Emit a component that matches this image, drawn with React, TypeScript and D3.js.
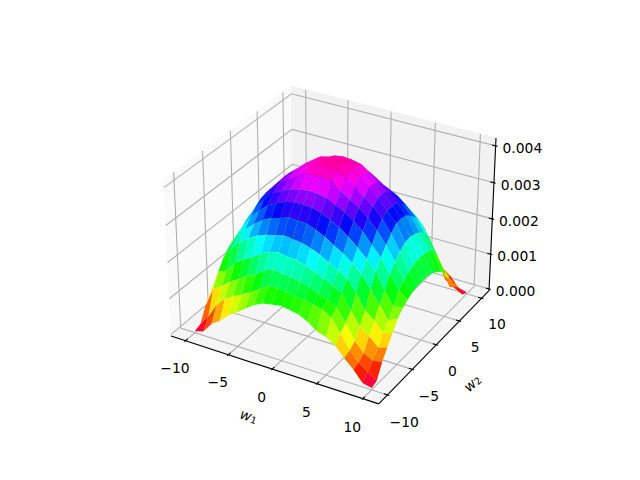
import React from "react";
import * as d3 from "d3";

const W1_GRID = d3.range(0, 21).map((i) => i - 10);
const W2_GRID = d3.range(0, 21).map((i) => i - 10);
// Heights, in units of 1e-5, rows by |w1|, columns by |w2|,
// one table for each quadrant of the (w1, w2) plane.
const Z_NEG_NEG = [
  [414, 407, 392, 362, 336, 305, 267, 233, 199, 173, 147],
  [411, 406, 392, 363, 337, 307, 270, 235, 201, 175, 143],
  [402, 399, 391, 359, 337, 308, 272, 239, 205, 172, 138],
  [390, 387, 373, 353, 331, 300, 265, 233, 195, 158, 126],
  [369, 369, 358, 342, 321, 293, 260, 222, 178, 140, 108],
  [350, 350, 343, 329, 308, 281, 251, 205, 165, 128, 91],
  [321, 323, 320, 307, 288, 262, 237, 190, 150, 115, 74],
  [295, 296, 292, 280, 263, 243, 220, 175, 135, 100, 52],
  [251, 253, 250, 242, 230, 214, 195, 145, 115, 75, 35],
  [199, 202, 201, 196, 189, 179, 160, 135, 100, 36, 6],
  [160, 160, 156, 147, 138, 121, 95, 70, 44, 6, 0],
];
const Z_POS_NEG = [
  [414, 407, 392, 362, 336, 305, 267, 233, 199, 173, 147],
  [411, 402, 390, 356, 328, 296, 259, 225, 193, 167, 143],
  [402, 393, 370, 345, 318, 284, 249, 215, 186, 165, 138],
  [390, 376, 355, 332, 304, 268, 235, 203, 177, 160, 126],
  [369, 356, 339, 316, 286, 254, 222, 192, 167, 155, 108],
  [350, 338, 320, 296, 265, 236, 206, 180, 155, 140, 100],
  [321, 312, 293, 266, 241, 213, 175, 140, 120, 105, 85],
  [295, 280, 261, 240, 215, 180, 135, 104, 78, 65, 58],
  [251, 238, 222, 201, 170, 145, 115, 85, 52, 40, 35],
  [199, 191, 178, 164, 135, 110, 88, 62, 40, 22, 6],
  [160, 160, 156, 147, 138, 121, 95, 70, 44, 6, 0],
];
const Z_NEG_POS = [
  [414, 412, 404, 385, 350, 312, 267, 233, 199, 173, 147],
  [414, 408, 400, 375, 340, 300, 259, 225, 193, 167, 143],
  [408, 402, 385, 358, 325, 288, 249, 215, 186, 160, 138],
  [398, 385, 365, 338, 308, 272, 235, 203, 177, 151, 126],
  [378, 365, 345, 320, 290, 256, 222, 192, 167, 141, 108],
  [355, 345, 330, 305, 272, 240, 206, 180, 155, 128, 91],
  [328, 325, 310, 282, 250, 220, 180, 140, 120, 90, 74],
  [298, 295, 282, 262, 235, 195, 145, 104, 78, 58, 52],
  [255, 250, 240, 220, 190, 160, 120, 85, 52, 38, 35],
  [205, 205, 195, 178, 150, 118, 88, 62, 40, 22, 6],
  [165, 165, 160, 150, 138, 121, 95, 70, 44, 6, 0],
];
const Z_POS_POS = [
  [414, 412, 404, 385, 350, 312, 267, 233, 199, 173, 147],
  [411, 410, 402, 380, 345, 310, 270, 235, 201, 175, 143],
  [402, 402, 396, 372, 342, 308, 272, 239, 205, 178, 138],
  [390, 388, 378, 358, 331, 300, 265, 233, 202, 175, 126],
  [369, 369, 358, 342, 321, 293, 260, 228, 197, 165, 108],
  [350, 350, 343, 329, 308, 281, 251, 222, 190, 160, 91],
  [321, 323, 320, 307, 288, 262, 237, 205, 176, 128, 74],
  [295, 296, 292, 280, 263, 240, 210, 170, 123, 88, 52],
  [251, 253, 250, 242, 228, 205, 160, 123, 82, 35, 35],
  [199, 202, 201, 196, 185, 160, 118, 77, 35, 20, 6],
  [160, 160, 156, 147, 135, 115, 90, 65, 40, 6, 0],
];
const XY_TICKS = [-10, -5, 0, 5, 10];
const Z_TICKS = [0, 0.001, 0.002, 0.003, 0.004];
const Z_TICK_TEXT = ["0.000", "0.001", "0.002", "0.003", "0.004"];
const FONT = "'DejaVu Sans'";

const zAt = (i: number, j: number) => {
  const a = W1_GRID[i];
  const b = W2_GRID[j];
  const table = b > 0 ? (a <= 0 ? Z_NEG_POS : Z_POS_POS) : a <= 0 ? Z_NEG_NEG : Z_POS_NEG;
  return table[Math.abs(a)][Math.abs(b)] * 1e-5;
};

const xLim = [-11.7, 11.7];
const zLim = [-5e-5, 421e-5];

const factor = (1.8294640721620434 * (25 / 24)) / Math.sqrt(41);
const box = [4 * factor, 4 * factor, 3 * factor];
const sx = d3.scaleLinear().domain(xLim).range([0, box[0]]);
const sy = d3.scaleLinear().domain(xLim).range([0, box[1]]);
const sz = d3.scaleLinear().domain(zLim).range([0, box[2]]);

const elev = (30 * Math.PI) / 180;
const azim = (-60 * Math.PI) / 180;
const DIST = 10;
const dir = [Math.cos(elev) * Math.cos(azim), Math.cos(elev) * Math.sin(azim), Math.sin(elev)];
const eye = [box[0] / 2 + DIST * dir[0], box[1] / 2 + DIST * dir[1], box[2] / 2 + DIST * dir[2]];
const U = [-Math.sin(azim), Math.cos(azim), 0];
const Vv = [-dir[2] * U[1], dir[2] * U[0], dir[0] * U[1] - dir[1] * U[0]];
const dot = (a: number[], b: number[]) => a[0] * b[0] + a[1] * b[1] + a[2] * b[2];

const px = d3.scaleLinear().domain([-0.095, 0.09]).range([143.2, 512.8]);
const py = d3.scaleLinear().domain([-0.095, 0.09]).range([427.2, 57.6]);

function proj(x: number, y: number, z: number) {
  const p = [sx(x) - eye[0], sy(y) - eye[1], sz(z) - eye[2]];
  const w = dot(dir, p);
  return { X: px(dot(U, p) / -w), Y: py(dot(Vv, p) / -w), depth: w };
}
const pt = (x: number, y: number, z: number) => {
  const q = proj(x, y, z);
  return [q.X, q.Y] as [number, number];
};
const poly = (pts: [number, number][]) => "M" + pts.map((p) => p.join(",")).join("L") + "Z";

const HSV_R: [number, number][] = [[0, 1], [0.15873, 1], [0.174603, 0.96875], [0.333333, 0.03125], [0.349206, 0], [0.666667, 0], [0.68254, 0.03125], [0.84127, 0.96875], [0.857143, 1], [1, 1]];
const HSV_G: [number, number][] = [[0, 0], [0.15873, 0.9375], [0.174603, 1], [0.507937, 1], [0.666667, 0.0625], [0.68254, 0], [1, 0]];
const HSV_B: [number, number][] = [[0, 0], [0.333333, 0], [0.349206, 0.0625], [0.507937, 1], [0.84127, 1], [0.857143, 0.9375], [1, 0.09375]];
const chan = (s: [number, number][]) =>
  d3.scaleLinear().domain(s.map((d) => d[0])).range(s.map((d) => d[1] * 255));
const cr = chan(HSV_R), cg = chan(HSV_G), cb = chan(HSV_B);
const hsv = (t0: number) => {
  const t = t0 < 0 ? t0 + 1 : t0;
  return `rgb(${Math.round(cr(t))},${Math.round(cg(t))},${Math.round(cb(t))})`;
};

type Cell = { d: string; avg: number; depth: number };
const cells: Cell[] = [];
for (let i = 0; i < W1_GRID.length - 1; i++) {
  for (let j = 0; j < W2_GRID.length - 1; j++) {
    const c: [number, number][] = [[i, j], [i + 1, j], [i + 1, j + 1], [i, j + 1]];
    const qs = c.map(([a, b]) => proj(W1_GRID[a], W2_GRID[b], zAt(a, b)));
    cells.push({
      d: poly(qs.map((q) => [q.X, q.Y] as [number, number])),
      avg: d3.mean(c, ([a, b]) => zAt(a, b)) as number,
      depth: d3.mean(qs, (q) => q.depth) as number,
    });
  }
}
cells.sort((a, b) => a.depth - b.depth);
const norm = d3.scaleLinear().domain([18e-5, 448e-5]).range([0, 1]);

const [x0, x1] = xLim;
const [z0, z1] = zLim;
const GRID = "#b0b0b0";
const LW = 1.11;

export default function App() {
  const dx = (x1 - x0) / 12;
  const dz = (z1 - z0) / 12;
  return (
    <svg width={640} height={480} style={{ position: "absolute", left: 0, top: 0 }} fontFamily={FONT} fontSize={13.89}>
      <rect width={640} height={480} fill="#fff" />
      <path d={poly([pt(x0, x0, z0), pt(x0, x1, z0), pt(x0, x1, z1), pt(x0, x0, z1)])} fill="rgb(250,250,250)" stroke="rgb(250,250,250)" />
      <path d={poly([pt(x0, x1, z0), pt(x1, x1, z0), pt(x1, x1, z1), pt(x0, x1, z1)])} fill="rgb(242,242,242)" stroke="rgb(242,242,242)" />
      <path d={poly([pt(x0, x0, z0), pt(x1, x0, z0), pt(x1, x1, z0), pt(x0, x1, z0)])} fill="rgb(245,245,245)" stroke="rgb(245,245,245)" />
      {XY_TICKS.map((t) => (
        <path key={"gx" + t} fill="none" stroke={GRID} strokeWidth={LW}
          d={"M" + [pt(t, x0, z0), pt(t, x1, z0), pt(t, x1, z1)].map((p) => p.join(",")).join("L")} />
      ))}
      {XY_TICKS.map((t) => (
        <path key={"gy" + t} fill="none" stroke={GRID} strokeWidth={LW}
          d={"M" + [pt(x1, t, z0), pt(x0, t, z0), pt(x0, t, z1)].map((p) => p.join(",")).join("L")} />
      ))}
      {Z_TICKS.map((t) => (
        <path key={"gz" + t} fill="none" stroke={GRID} strokeWidth={LW}
          d={"M" + [pt(x0, x0, t), pt(x0, x1, t), pt(x1, x1, t)].map((p) => p.join(",")).join("L")} />
      ))}
      <g stroke="#000" strokeWidth={LW} fill="none">
        <path d={"M" + pt(x0, x0, z0).join(",") + "L" + pt(x1, x0, z0).join(",")} />
        <path d={"M" + pt(x1, x0, z0).join(",") + "L" + pt(x1, x1, z0).join(",")} />
        <path d={"M" + pt(x1, x1, z0).join(",") + "L" + pt(x1, x1, z1).join(",")} />
        {XY_TICKS.map((t) => (
          <path key={"tx" + t} d={"M" + pt(t, x0 + 0.2 * dx, z0).join(",") + "L" + pt(t, x0 - 0.1 * dx, z0).join(",")} />
        ))}
        {XY_TICKS.map((t) => (
          <path key={"ty" + t} d={"M" + pt(x1 - 0.2 * dx, t, z0).join(",") + "L" + pt(x1 + 0.1 * dx, t, z0).join(",")} />
        ))}
        {Z_TICKS.map((t) => (
          <path key={"tz" + t} d={"M" + pt(x1 - 0.2 * dx, x1, t).join(",") + "L" + pt(x1 + 0.1 * dx, x1, t).join(",")} />
        ))}
      </g>
      {cells.map((c, i) => (
        <path key={i} d={c.d} fill={hsv(norm(c.avg))} />
      ))}
      {XY_TICKS.map((t) => {
        const [a, b] = pt(t, x0 - 2.0, z0 - 1.4 * dz);
        return <text key={"lx" + t} x={a} y={b} textAnchor="middle" dominantBaseline="central">{t < 0 ? "\u2212" + -t : t}</text>;
      })}
      {XY_TICKS.map((t) => {
        const [a, b] = pt(x1 + 1.85, t, z0 - 1.7 * dz);
        return <text key={"ly" + t} x={a} y={b} textAnchor="middle" dominantBaseline="central">{t < 0 ? "\u2212" + -t : t}</text>;
      })}
      {Z_TICKS.map((t, i) => {
        const [a, b] = pt(x1 + 0.75, x1, t);
        return <text key={"lz" + t} x={a} y={b} dominantBaseline="central">{Z_TICK_TEXT[i]}</text>;
      })}
      <g transform="translate(249,416) rotate(18)">
        <text textAnchor="middle" dominantBaseline="central" fontStyle="italic">w<tspan fontSize={9.7} fontStyle="normal" dy={2}>1</tspan></text>
      </g>
      <g transform="translate(472,383) rotate(-44)">
        <text textAnchor="middle" dominantBaseline="central" fontStyle="italic">w<tspan fontSize={9.7} fontStyle="normal" dy={2}>2</tspan></text>
      </g>
    </svg>
  );
}
